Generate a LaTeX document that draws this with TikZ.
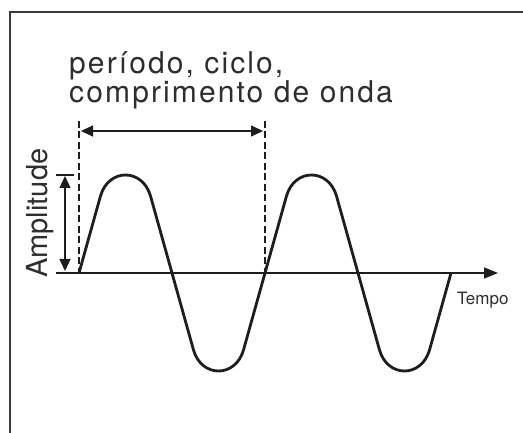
\documentclass[tikz,border=0pt]{standalone}
\usepackage{fontspec}
\setsansfont{TeX Gyre Heros}
\newfontfamily\labelfont[LetterSpace=7]{TeX Gyre Heros}
\usetikzlibrary{arrows.meta,positioning}
\definecolor{inkcolor}{HTML}{1E1E1E}
\definecolor{textcolor}{HTML}{2E2E2E}
\definecolor{framecolor}{HTML}{3A3A3A}

\begin{document}
\begin{tikzpicture}[x=1pt, y=-1pt,
    wave/.style={
        draw=inkcolor, line width=2.8pt, line join=round
    },
    axisline/.style={
        draw=inkcolor, line width=1.5pt, -{Triangle[length=14pt, width=11pt]}
    },
    guide/.style={
        draw=inkcolor, line width=1.3pt, dash pattern=on 7pt off 3.5pt
    },
    dimarrow/.style={
        draw=inkcolor, line width=1.3pt,
        {Triangle[length=12pt, width=11pt]}-{Triangle[length=12pt, width=11pt]}
    },
    bigtext/.style={
        font=\labelfont\fontsize{30}{36}\selectfont, text=textcolor, inner sep=0pt
    },
    sidetext/.style={
        font=\sffamily\fontsize{29}{34}\selectfont, text=textcolor, inner sep=0pt
    },
    smalltext/.style={
        font=\sffamily\fontsize{17}{20}\selectfont, text=textcolor, inner sep=0pt
    }
]

% Page and frame
\useasboundingbox[fill=white] (0,0) rectangle (523,433);
\draw[framecolor, line width=2pt] (523,12) -- (10,12) -- (10,433);

% Axis
\coordinate (origin) at (79,273);
\coordinate (axisstart) at (56,273);
\coordinate (axisend) at (498,273);
\draw[axisline] (axisstart) -- (axisend);

% Wave: half waves, centre / sign
\draw[wave] (origin)
    \foreach \cx/\s in {125.5/1, 218.5/-1, 311.5/1, 404.5/-1} {
        -- ({\cx-25},{273-77*\s})
        .. controls ({\cx-17},{273-105*\s}) and ({\cx+17},{273-105*\s})
        .. ({\cx+25},{273-77*\s})
    } -- (451,273);

% Period guides
\coordinate (guideAtop) at (79,121);
\coordinate (guideB) at (265,273);
\coordinate (guideBtop) at (265,121);
\draw[guide] (guideAtop) -- (origin);
\draw[guide] (guideBtop) -- (guideB);
\coordinate (periodL) at (81,131);
\coordinate (periodR) at (263,131);
\draw[dimarrow] (periodL) -- (periodR);

% Amplitude
\coordinate (barL) at (56,175);
\coordinate (barR) at (74,175);
\draw[inkcolor, line width=1.3pt] (barL) -- (barR);
\coordinate (amptop) at (65,176);
\coordinate (ampbot) at (65,271);
\draw[dimarrow] (amptop) -- (ampbot);

% Labels
\node[bigtext, anchor=base west] (titleA) at (69,74) {período, ciclo,};
\node[bigtext, anchor=base west] (titleB) at (69,103) {comprimento de onda};
\node[sidetext, rotate=90, anchor=base west] (amplabel) at (47,278) {Amplitude};
\node[smalltext, anchor=base west] (timelabel) at (457,305) {Tempo};

\end{tikzpicture}
\end{document}
